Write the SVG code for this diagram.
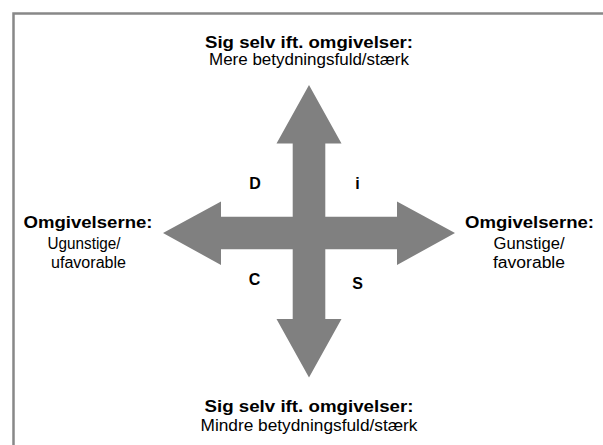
<svg xmlns="http://www.w3.org/2000/svg" width="603" height="445" viewBox="0 0 603 445">
<style>
.b{font-family:"Liberation Sans",Arial,sans-serif;font-weight:bold;font-size:17px;fill:#000;text-anchor:middle}
.r{font-family:"Liberation Sans",Arial,sans-serif;font-size:16px;fill:#000;text-anchor:middle}
.q{font-family:"Liberation Sans",Arial,sans-serif;font-weight:bold;font-size:16px;fill:#000;text-anchor:middle}
.arrow{fill:#808080;stroke:none}
</style>
<rect width="603" height="445" fill="#fff"/>
<path d="M13.5 445 V13.5 H603" fill="none" stroke="#888" stroke-width="2.5"/>
<g id="connectors">
<polygon class="arrow" points="309,85 341.5,143.5 325.3,143.5 325.3,216.7 397,216.7 397,201.5 455,233 397,265 397,249.3 325.3,249.3 325.3,319 341.5,319 309,377.5 276.5,319 292.7,319 292.7,249.3 221,249.3 221,265 163,233 221,201.5 221,216.7 292.7,216.7 292.7,143.5 276.5,143.5"/>
</g>
<g id="top">
<text class="b" x="309" y="47.5" textLength="208" lengthAdjust="spacingAndGlyphs">Sig selv ift. omgivelser:</text>
<text class="r" x="309" y="64.5" textLength="200" lengthAdjust="spacingAndGlyphs">Mere betydningsfuld/stærk</text>
</g>
<g id="bottom">
<text class="b" x="309" y="411.5" textLength="209" lengthAdjust="spacingAndGlyphs">Sig selv ift. omgivelser:</text>
<text class="r" x="309" y="431" textLength="217" lengthAdjust="spacingAndGlyphs">Mindre betydningsfuld/stærk</text>
</g>
<g id="left">
<text class="b" x="88" y="228" textLength="129" lengthAdjust="spacingAndGlyphs">Omgivelserne:</text>
<text class="r" x="84" y="249" textLength="73" lengthAdjust="spacingAndGlyphs">Ugunstige/</text>
<text class="r" x="88.5" y="268" textLength="75" lengthAdjust="spacingAndGlyphs">ufavorable</text>
</g>
<g id="right">
<text class="b" x="529.5" y="228" textLength="129" lengthAdjust="spacingAndGlyphs">Omgivelserne:</text>
<text class="r" x="529" y="249" textLength="71" lengthAdjust="spacingAndGlyphs">Gunstige/</text>
<text class="r" x="529" y="268" textLength="72" lengthAdjust="spacingAndGlyphs">favorable</text>
</g>
<g id="D"><text class="q" x="255" y="188.5">D</text></g>
<g id="i"><text class="q" x="357.5" y="188.5">i</text></g>
<g id="C"><text class="q" x="254.5" y="285">C</text></g>
<g id="S"><text class="q" x="357.5" y="288.5">S</text></g>
</svg>
